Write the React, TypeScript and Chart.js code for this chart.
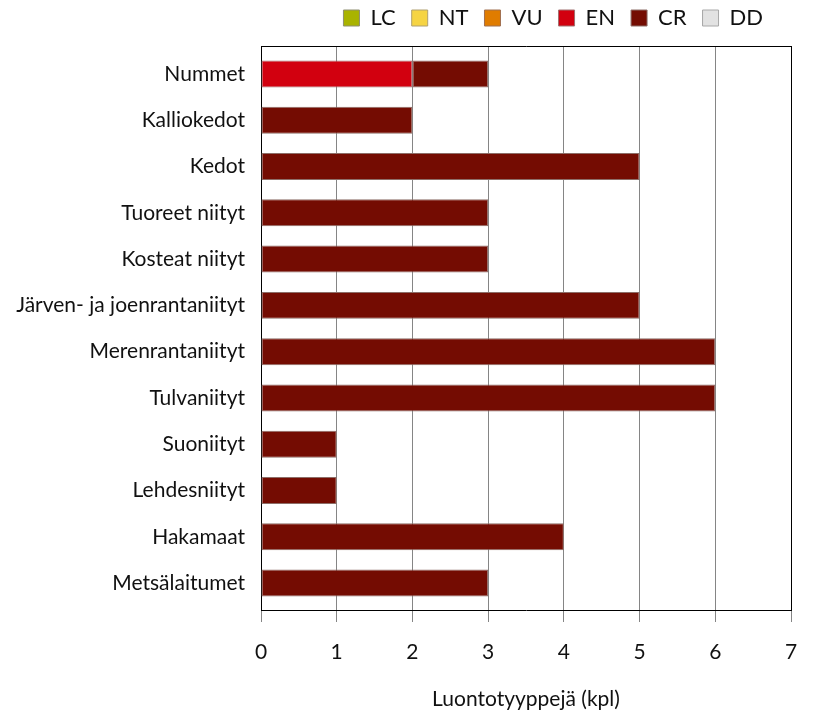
import React, { useEffect, useRef } from 'react';
import { Chart, registerables } from 'chart.js';

Chart.register(...registerables);

const categories = [
  'Nummet',
  'Kalliokedot',
  'Kedot',
  'Tuoreet niityt',
  'Kosteat niityt',
  'Järven- ja joenrantaniityt',
  'Merenrantaniityt',
  'Tulvaniityt',
  'Suoniityt',
  'Lehdesniityt',
  'Hakamaat',
  'Metsälaitumet',
];

const seriesLabels = ['LC', 'NT', 'VU', 'EN', 'CR', 'DD'];

const lcValues = [0, 0, 0, 0, 0, 0, 0, 0, 0, 0, 0, 0];
const ntValues = [0, 0, 0, 0, 0, 0, 0, 0, 0, 0, 0, 0];
const vuValues = [0, 0, 0, 0, 0, 0, 0, 0, 0, 0, 0, 0];
const enValues = [2, 0, 0, 0, 0, 0, 0, 0, 0, 0, 0, 0];
const crValues = [1, 2, 5, 3, 3, 5, 6, 6, 1, 1, 4, 3];
const ddValues = [0, 0, 0, 0, 0, 0, 0, 0, 0, 0, 0, 0];

const xTickValues = [0, 1, 2, 3, 4, 5, 6, 7];
const xTitle = 'Luontotyyppejä (kpl)';

const seriesColors = ['#a9b300', '#f6d443', '#e07c00', '#d2000f', '#740c02', '#e2e2e2'];
const seriesBorders = ['#8f8f70', '#b0a070', '#a07050', '#a07070', '#8d6e68', '#a8a8a8'];

const FONT = 'Lato, "Open Sans", sans-serif';

function alignPx(p: number) {
  return Math.round(p - 0.5) + 0.5;
}

const framePlugin = {
  id: 'frameAndLegend',
  beforeLayout(chart: any) {
    const lg = chart.legend;
    if (!lg || lg.__tweaked) return;
    lg.__tweaked = true;
    const origFit = lg.fit;
    lg.fit = function (this: any) {
      origFit.call(this);
      this.height = 38;
    };
    const origDraw = lg.draw;
    lg.draw = function (this: any, ...args: any[]) {
      const t = this.top;
      const r = this.right;
      this.top = t - 17;
      this.right = r - 12;
      origDraw.apply(this, args);
      this.top = t;
      this.right = r;
    };
  },
  beforeDatasetsDraw(chart: any) {
    const { ctx, chartArea } = chart;
    const y = alignPx(chartArea.top);
    ctx.save();
    ctx.strokeStyle = '#000';
    ctx.lineWidth = 1;
    ctx.beginPath();
    ctx.moveTo(chartArea.left, y);
    ctx.lineTo(chartArea.right + 0.5, y);
    ctx.stroke();
    ctx.restore();
  },
};

export default function App() {
  const ref = useRef<HTMLCanvasElement>(null);

  useEffect(() => {
    const canvas = ref.current;
    if (!canvas) return;
    const seriesData = [lcValues, ntValues, vuValues, enValues, crValues, ddValues];
    const chart = new Chart(canvas, {
      type: 'bar',
      data: {
        datasets: seriesLabels.map((label, s) => ({
          label,
          data: seriesData[s].map((v, i) => ({ x: v, y: i })),
          backgroundColor: seriesColors[s],
          borderColor: seriesBorders[s],
          borderWidth: 1,
          borderSkipped: false,
          categoryPercentage: 1,
          barPercentage: 0.583,
        })),
      },
      options: {
        indexAxis: 'y',
        animation: false,
        responsive: true,
        maintainAspectRatio: false,
        events: [],
        layout: { padding: { top: 0, right: 35, bottom: 0, left: 0 } },
        plugins: {
          tooltip: { enabled: false },
          legend: {
            display: true,
            position: 'top',
            align: 'end',
            fullSize: false,
            labels: {
              boxWidth: 16,
              boxHeight: 16,
              padding: 16,
              color: '#111',
              font: { family: FONT, size: 22 },
            },
          },
        },
        scales: {
          x: {
            type: 'linear',
            position: 'bottom',
            stacked: true,
            min: 0,
            max: 7,
            bounds: 'data',
            offset: false,
            afterFit: (scale: any) => {
              scale.height = 104;
            },
            afterBuildTicks: (scale: any) => {
              scale.ticks = xTickValues.map((v) => ({ value: v }));
            },
            grid: {
              display: true,
              drawOnChartArea: true,
              drawTicks: true,
              tickLength: 12,
              lineWidth: 1,
              color: (c: any) =>
                c.tick && (c.tick.value === 0 || c.tick.value === 7) ? '#000' : '#858585',
              tickColor: '#858585',
            },
            border: { display: true, color: '#000', width: 1 },
            ticks: {
              padding: 18,
              color: '#111',
              font: { family: FONT, size: 21 },
              maxRotation: 0,
              autoSkip: false,
            },
            title: {
              display: true,
              text: xTitle,
              color: '#111',
              font: { family: FONT, size: 21 },
              padding: { top: 0, bottom: 2 },
            },
          },
          y: {
            type: 'linear',
            position: 'left',
            reverse: true,
            stacked: true,
            bounds: 'data',
            offset: false,
            min: -0.605,
            max: 11.583,
            afterFit: (scale: any) => {
              scale.width = 253;
            },
            afterBuildTicks: (scale: any) => {
              scale.ticks = categories.map((_, i) => ({ value: i }));
            },
            grid: { display: false, drawTicks: false, offset: false },
            border: { display: true, color: '#000', width: 1 },
            ticks: {
              autoSkip: false,
              padding: 16,
              color: '#111',
              font: { family: FONT, size: 21 },
              callback: (v: any) => {
                const i = Math.round(Number(v));
                return categories[i] !== undefined ? categories[i] : '';
              },
            },
          },
        },
      },
      plugins: [framePlugin],
    } as any);
    return () => chart.destroy();
  }, []);

  return (
    <div style={{ width: 818, height: 706, position: 'relative' }}>
      <canvas ref={ref} />
    </div>
  );
}
